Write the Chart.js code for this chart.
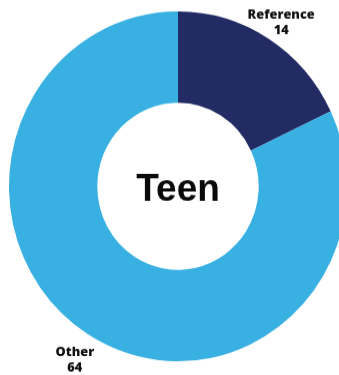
<!DOCTYPE html>
<html>
<head>
<meta charset="utf-8">
<script src="https://cdn.jsdelivr.net/npm/chart.js@4/dist/chart.umd.min.js"></script>
<style>
  html, body { margin: 0; padding: 0; background: #fff; overflow: hidden; }
  #wrap { width: 339px; height: 375px; overflow: hidden; position: relative; }
  /* the ring is a touch taller than wide, so stretch the box vertically */
  #box { position: absolute; left: 0; top: 0; width: 356px; height: 360px;
         transform: scaleY(1.035); transform-origin: 0 0; }
</style>
</head>
<body>
<div id="wrap"><div id="box"><canvas id="myChart"></canvas></div></div>
<script>
/*** data for the ring ***/
const labels = ["Reference", "Other"];
const values = [14, 64];
const colors = ["#222b63", "#39b0e2"];
const centerText = "Teen";

// slice name + value placed outside each arc, at its mid angle
const outsideLabels = {
  id: "outsideLabels",
  afterDatasetsDraw(chart) {
    const ctx = chart.ctx;
    const meta = chart.getDatasetMeta(0);
    ctx.save();
    ctx.fillStyle = "#111";
    ctx.textAlign = "center";
    ctx.textBaseline = "middle";
    ctx.font = "800 12.8px 'Open Sans'";
    meta.data.forEach((arc, i) => {
      const p = arc.getProps(["x", "y", "startAngle", "endAngle", "outerRadius"], true);
      const mid = (p.startAngle + p.endAngle) / 2;
      const r = p.outerRadius + 24;
      const x = p.x + Math.cos(mid) * r;
      const y = p.y + Math.sin(mid) * r + 4.5;
      ctx.fillText(labels[i], x, y - 7);
      ctx.fillText(String(values[i]), x, y + 7.5);
    });
    ctx.restore();
  },
};

// big word in the hole
const centerLabel = {
  id: "centerLabel",
  afterDatasetsDraw(chart) {
    const arc = chart.getDatasetMeta(0).data[0];
    const ctx = chart.ctx;
    ctx.save();
    ctx.fillStyle = "#0a0a0a";
    ctx.textAlign = "center";
    ctx.textBaseline = "alphabetic";
    ctx.font = "bold 37px 'Liberation Sans'";
    ctx.fillText(centerText, arc.x, arc.y + 13.5);
    ctx.restore();
  },
};

var ctx = document.getElementById("myChart").getContext("2d");
var chart = new Chart(ctx, {
  type: "doughnut",
  data: {
    labels: labels,
    datasets: [
      {
        data: values,
        backgroundColor: colors,
        borderWidth: 0,
      },
    ],
  },
  options: {
    responsive: true,
    maintainAspectRatio: false,
    animation: false,
    radius: 169,
    cutout: 85,
    layout: { padding: 0 },
    plugins: {
      legend: { display: false },
      tooltip: { enabled: false },
    },
  },
  plugins: [outsideLabels, centerLabel],
});
</script>
</body>
</html>
